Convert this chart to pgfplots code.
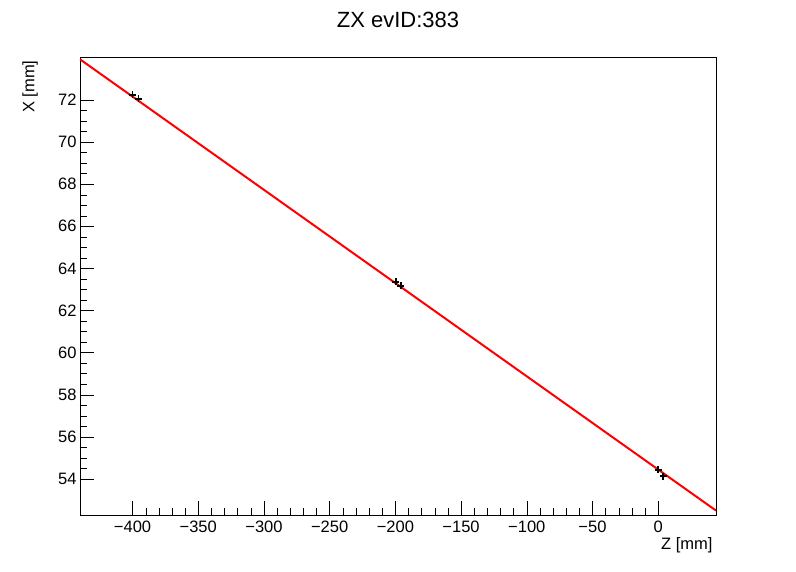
\documentclass[border=0pt]{standalone}
\usepackage{pgfplots}
\pgfplotsset{compat=1.18}
\usepackage{fontspec}
\setmainfont{Liberation Sans}
\begin{document}
\begin{tikzpicture}
\useasboundingbox (-80pt,-57pt) rectangle (716pt,515pt);
\begin{axis}[at={(0,0)},anchor=south west,scale only axis,width=636pt,height=458pt,
 xmin=-440,xmax=44,ymin=52.29,ymax=74.04,
 xtick={-400,-350,...,0},ytick={54,56,...,72},
 xticklabels={−400,−350,−300,−250,−200,−150,−100,−50,0},
 minor x tick num=4, minor y tick num=3,
 xtick pos=bottom, ytick pos=left, tick align=inside,
 major tick length=14pt, minor tick length=7pt,
 tick style={black,thin},
 /pgf/number format/assume math mode=true,
 ticklabel style={font=\fontsize{16.5}{16.5}\selectfont},
 x tick label style={yshift=-2pt},
 axis line style={black,thin}]
\addplot[red,line width=2pt] coordinates {(-440,73.93) (44,52.5)};
\addplot[black,only marks,mark=+,mark size=3.5pt,line width=1.6pt] coordinates {
(-400,72.24) (-395.4,72.05) (-199.7,63.36) (-195.9,63.17) (0,54.43) (3.8,54.14)};
\end{axis}
\node[font=\fontsize{22}{22}\selectfont] at (318pt,495pt) {ZX evID:383};
\node[anchor=east,font=\fontsize{16.5}{16.5}\selectfont] at (636pt,-30pt) {Z [mm]};
\node[anchor=east,rotate=90,font=\fontsize{16.5}{16.5}\selectfont] at (-50pt,458pt) {X [mm]};
\end{tikzpicture}
\end{document}
